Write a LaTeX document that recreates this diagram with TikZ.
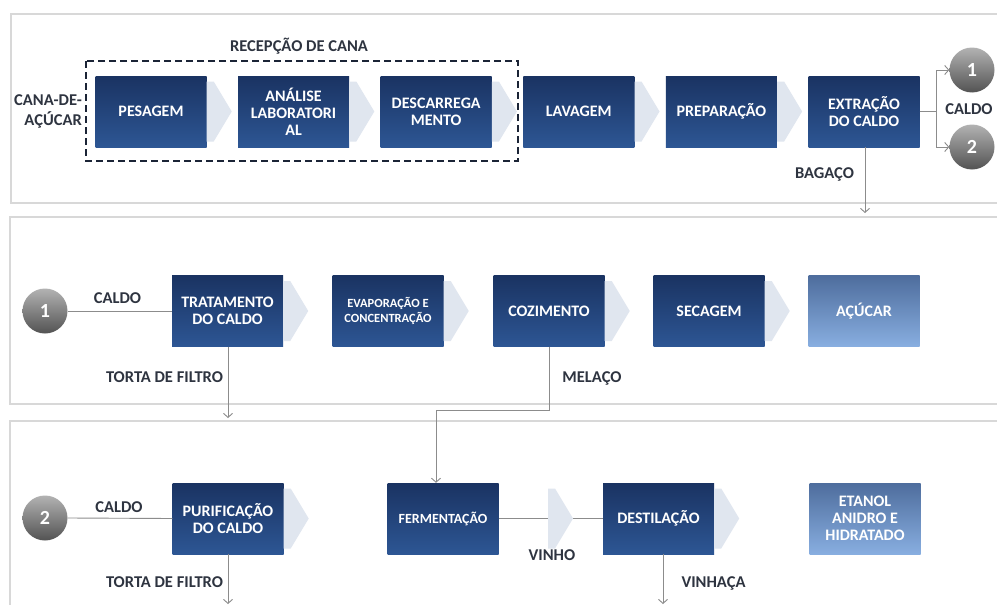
\documentclass[tikz,border=0pt]{standalone}
\usepackage{fontspec}
\setmainfont{Carlito}
\usetikzlibrary{arrows.meta,calc}
\definecolor{boxtop}{HTML}{1A3362}
\definecolor{boxbot}{HTML}{2D5694}
\definecolor{lighttop}{HTML}{4E6D9D}
\definecolor{lightbot}{HTML}{88AEE0}
\definecolor{chev}{HTML}{E0E6EF}
\definecolor{panelc}{HTML}{D8D8D8}
\definecolor{lbl}{HTML}{2E3440}
\definecolor{connc}{HTML}{8C8C8C}
\definecolor{dashc}{HTML}{1B2436}
\tikzset{
 procbox/.style={rectangle, minimum width=111pt, minimum height=71pt, inner sep=2pt,
   top color=boxtop, bottom color=boxbot, text=white,
   font=\bfseries\fontsize{16}{17}\selectfont, align=center},
 prodbox/.style={procbox, top color=lighttop, bottom color=lightbot},
 ballnode/.style={circle, minimum size=45pt, inner sep=0pt, top color=gray!60,
   bottom color=gray!65!black, text=white, font=\bfseries\fontsize{20}{20}\selectfont},
 lab/.style={text=lbl, font=\bfseries\fontsize{16.5}{20}\selectfont, inner sep=0pt, align=center},
 connline/.style={draw=connc, line width=0.9pt},
 arr/.style={connline, -{Straight Barb[length=4pt,width=9pt]}},
 panelbox/.style={draw=panelc, line width=2.5pt},
 chevf/.style={fill=chev},
 dashbox/.style={draw=dashc, line width=2.4pt, dash pattern=on 7pt off 4pt},
}
\newcommand\chevat[1]{\fill[chevf] ($(#1)+(0,-30)$) -- ++(7,0) -- ++(18,30) -- ++(-18,30) -- ++(-7,0) -- cycle;}
\begin{document}
\begin{tikzpicture}[x=1pt,y=-1pt]
\useasboundingbox (0,0) rectangle (997,605);
\fill[white] (0,0) rectangle (997,605);
\begin{scope}
\clip (0,0) rectangle (997,605);
% panels
\draw[panelbox] (11,14) rectangle (1010,203);
\draw[panelbox] (10,217) rectangle (1010,404);
\draw[panelbox] (10,421) rectangle (1010,630);

% ---------- row 1 ----------
\node[procbox] (pes) at (151,111.5) {PESAGEM};
\node[procbox] (ana) at (293.6,111.5) {ANÁLISE\\LABORATORI\\AL};
\node[procbox] (des) at (436.2,111.5) {DESCARREGA\\MENTO};
\node[procbox] (lav) at (578.8,111.5) {LAVAGEM};
\node[procbox] (pre) at (721.4,111.5) {PREPARAÇÃO};
\node[procbox] (ext) at (864,111.5) {EXTRAÇÃO\\DO CALDO};
\chevat{pes.east}\chevat{ana.east}\chevat{des.east}\chevat{lav.east}\chevat{pre.east}
\draw[dashbox] (86,61) rectangle (518,161);
\node[lab] (rec) at (299,46) {RECEPÇÃO DE CANA};
\node[lab, align=right, anchor=east] (cana) at (82,111) {CANA-DE-\\AÇÚCAR};
\node[ballnode] (c1a) at (972,70) {1};
\node[ballnode] (c2a) at (972,147) {2};
\coordinate (split) at (936,111.5);
\draw[connline] (ext.east) -- (split);
\draw[arr] (split) |- (c1a.west);
\draw[arr] (split) |- (c2a.west);
\node[lab] (caldoa) at (969,109) {CALDO};
\coordinate (bagend) at (865,213);
\draw[arr] (ext.south -| bagend) -- (bagend);
\node[lab] (bag) at (824.5,174) {BAGAÇO};

% ---------- row 2 ----------
\node[ballnode] (c1b) at (45,311) {1};
\node[procbox] (tra) at (227.5,311) {TRATAMENTO\\DO CALDO};
\node[procbox, font=\bfseries\fontsize{12.5}{15}\selectfont] (eva) at (388,311) {EVAPORAÇÃO E\\CONCENTRAÇÃO};
\node[procbox] (coz) at (549,311) {COZIMENTO};
\node[procbox] (sec) at (709,311) {SECAGEM};
\node[prodbox] (acu) at (864,311) {AÇÚCAR};
\chevat{tra.east}\chevat{eva.east}\chevat{coz.east}\chevat{sec.east}
\draw[connline] (c1b.east) -- (tra.west);
\node[lab] (caldob) at (117.5,298) {CALDO};
\node[lab] (tortab) at (164.5,377) {TORTA DE FILTRO};
\coordinate (tortend) at (228,418);
\draw[arr] (tra.south -| tortend) -- (tortend);
\node[lab] (mel) at (592,378) {MELAÇO};

% ---------- row 3 ----------
\node[ballnode] (c2b) at (45,518) {2};
\node[procbox] (pur) at (228,518.5) {PURIFICAÇÃO\\DO CALDO};
\node[procbox, font=\bfseries\fontsize{14}{15}\selectfont] (fer) at (443,518.5) {FERMENTAÇÃO};
\node[procbox] (dst) at (658.5,518.5) {DESTILAÇÃO};
\node[prodbox] (eta) at (865,518.5) {ETANOL\\ANIDRO E\\HIDRATADO};
\draw[connline] (c2b.east) -- (pur.west);
\draw[connline] (fer.east) -- (dst.west);
\chevat{pur.east}\chevat{dst.east}
\coordinate (vch) at (548,518.5);
\chevat{vch}
\node[lab] (caldoc) at (119,507) {CALDO};
\node[lab] (tortac) at (164.5,582) {TORTA DE FILTRO};
\node[lab] (vinho) at (552,555) {VINHO};
\node[lab] (vinhaca) at (713.5,583) {VINHAÇA};
\coordinate (purend) at (228,604);
\draw[arr] (pur.south) -- (purend);
\coordinate (vinend) at (663,604);
\draw[arr] (dst.south -| vinend) -- (vinend);
% melaco connector
\coordinate (melturn) at (549,410);
\coordinate (ferin) at (436,410);
\draw[arr] (coz.south) -- (melturn) -- (ferin) -- (fer.north -| ferin);
\end{scope}
\end{tikzpicture}
\end{document}
